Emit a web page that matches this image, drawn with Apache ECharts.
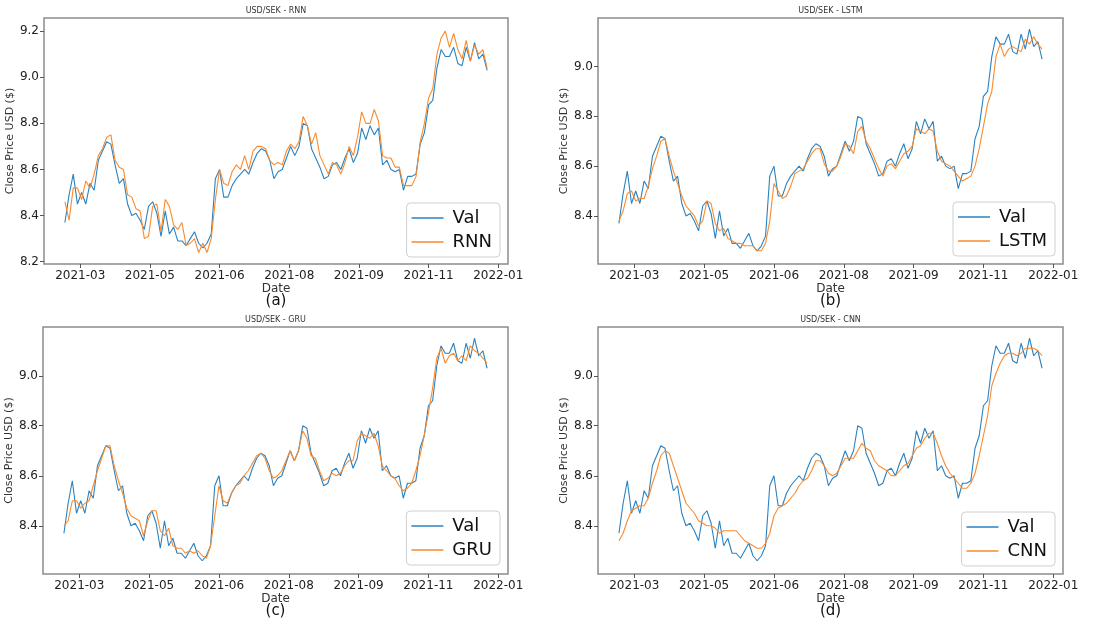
<!DOCTYPE html>
<html>
<head>
<meta charset="utf-8">
<script src="https://cdn.jsdelivr.net/npm/echarts@6/dist/echarts.min.js"></script>
<style>
  html, body { margin: 0; padding: 0; background: #fff; }
  #main { width: 1118px; height: 623px; }
</style>
</head>
<body>
<div id="main"></div>
<script>
// sample dates (every 3 days)
var dates = [
  '2021-03-02','2021-03-05','2021-03-08','2021-03-11','2021-03-14','2021-03-17','2021-03-20','2021-03-23','2021-03-26','2021-03-29',
  '2021-04-01','2021-04-04','2021-04-07','2021-04-10','2021-04-13','2021-04-16','2021-04-19','2021-04-22','2021-04-25','2021-04-28',
  '2021-05-01','2021-05-04','2021-05-07','2021-05-10','2021-05-13','2021-05-16','2021-05-19','2021-05-22','2021-05-25','2021-05-28','2021-05-31',
  '2021-06-03','2021-06-06','2021-06-09','2021-06-12','2021-06-15','2021-06-18','2021-06-21','2021-06-24','2021-06-27','2021-06-30',
  '2021-07-03','2021-07-06','2021-07-09','2021-07-12','2021-07-15','2021-07-18','2021-07-21','2021-07-24','2021-07-27','2021-07-30',
  '2021-08-02','2021-08-05','2021-08-08','2021-08-11','2021-08-14','2021-08-17','2021-08-20','2021-08-23','2021-08-26','2021-08-29',
  '2021-09-01','2021-09-04','2021-09-07','2021-09-10','2021-09-13','2021-09-16','2021-09-19','2021-09-22','2021-09-25','2021-09-28',
  '2021-10-01','2021-10-04','2021-10-07','2021-10-10','2021-10-13','2021-10-16','2021-10-19','2021-10-22','2021-10-25','2021-10-28','2021-10-31',
  '2021-11-03','2021-11-06','2021-11-09','2021-11-12','2021-11-15','2021-11-18','2021-11-21','2021-11-24','2021-11-27','2021-11-30',
  '2021-12-03','2021-12-06','2021-12-09','2021-12-12','2021-12-15','2021-12-18','2021-12-21','2021-12-24','2021-12-27','2021-12-30'
];

var val = [
  8.37, 8.49, 8.58, 8.45, 8.50, 8.45, 8.54, 8.51, 8.64, 8.68,
  8.72, 8.71, 8.62, 8.54, 8.56, 8.45, 8.40, 8.41, 8.38, 8.34,
  8.44, 8.46, 8.41, 8.31, 8.42, 8.32, 8.35, 8.29, 8.29, 8.27,
  8.30, 8.33, 8.28, 8.26, 8.28, 8.32, 8.56, 8.60, 8.48, 8.48,
  8.53, 8.56, 8.58, 8.60, 8.58, 8.63, 8.67, 8.69, 8.68, 8.64,
  8.56, 8.59, 8.60, 8.65, 8.70, 8.66, 8.70, 8.80, 8.79, 8.69,
  8.65, 8.61, 8.56, 8.57, 8.62, 8.63, 8.60, 8.65, 8.69, 8.63,
  8.67, 8.78, 8.73, 8.79, 8.75, 8.78, 8.62, 8.64, 8.60, 8.59,
  8.60, 8.51, 8.57, 8.57, 8.58, 8.71, 8.76, 8.88, 8.90, 9.04,
  9.12, 9.09, 9.09, 9.13, 9.06, 9.05, 9.13, 9.07, 9.15, 9.08, 9.10, 9.03
];

var rnn = [
  8.46, 8.38, 8.52, 8.52, 8.47, 8.55, 8.52, 8.58, 8.66, 8.69,
  8.74, 8.75, 8.64, 8.61, 8.60, 8.49, 8.48, 8.43, 8.42, 8.30,
  8.31, 8.44, 8.45, 8.33, 8.47, 8.44, 8.36, 8.34, 8.37, 8.27,
  8.28, 8.30, 8.24, 8.28, 8.24, 8.30, 8.47, 8.60, 8.54, 8.53,
  8.59, 8.62, 8.60, 8.66, 8.60, 8.68, 8.70, 8.70, 8.69, 8.64,
  8.62, 8.63, 8.62, 8.68, 8.71, 8.69, 8.72, 8.83, 8.79, 8.71,
  8.76, 8.66, 8.62, 8.58, 8.63, 8.62, 8.58, 8.63, 8.70, 8.66,
  8.74, 8.85, 8.80, 8.80, 8.86, 8.81, 8.66, 8.65, 8.65, 8.61,
  8.61, 8.53, 8.53, 8.53, 8.57, 8.72, 8.80, 8.91, 8.95, 9.10,
  9.17, 9.20, 9.13, 9.19, 9.12, 9.08, 9.16, 9.07, 9.14, 9.10, 9.12, 9.04
];

var lstm = [
  8.38, 8.42, 8.49, 8.50, 8.46, 8.47, 8.47, 8.52, 8.59, 8.64,
  8.70, 8.71, 8.64, 8.58, 8.53, 8.48, 8.44, 8.42, 8.40, 8.36,
  8.38, 8.46, 8.45, 8.37, 8.34, 8.35, 8.31, 8.30, 8.29, 8.29,
  8.28, 8.28, 8.28, 8.26, 8.26, 8.29, 8.38, 8.53, 8.50, 8.47,
  8.48, 8.52, 8.57, 8.58, 8.59, 8.62, 8.65, 8.67, 8.67, 8.61,
  8.58, 8.58, 8.60, 8.64, 8.69, 8.68, 8.65, 8.74, 8.76, 8.70,
  8.67, 8.63, 8.59, 8.56, 8.60, 8.61, 8.59, 8.62, 8.65, 8.66,
  8.68, 8.75, 8.74, 8.73, 8.75, 8.74, 8.66, 8.62, 8.61, 8.60,
  8.58, 8.56, 8.54, 8.55, 8.56, 8.60, 8.67, 8.76, 8.85, 8.90,
  9.04, 9.09, 9.04, 9.07, 9.08, 9.07, 9.06, 9.11, 9.09, 9.12, 9.09, 9.07
];

var gru = [
  8.40, 8.42, 8.50, 8.50, 8.47, 8.49, 8.50, 8.56, 8.62, 8.67,
  8.72, 8.72, 8.64, 8.58, 8.53, 8.47, 8.44, 8.43, 8.42, 8.36,
  8.42, 8.46, 8.46, 8.38, 8.36, 8.39, 8.32, 8.31, 8.31, 8.29,
  8.30, 8.29, 8.30, 8.28, 8.27, 8.32, 8.44, 8.56, 8.50, 8.49,
  8.53, 8.56, 8.57, 8.60, 8.62, 8.65, 8.68, 8.69, 8.67, 8.62,
  8.59, 8.60, 8.62, 8.66, 8.70, 8.66, 8.70, 8.78, 8.75, 8.68,
  8.67, 8.62, 8.58, 8.59, 8.61, 8.60, 8.61, 8.64, 8.66, 8.66,
  8.74, 8.77, 8.76, 8.75, 8.77, 8.72, 8.64, 8.62, 8.60, 8.59,
  8.56, 8.54, 8.55, 8.57, 8.62, 8.68, 8.76, 8.85, 8.95, 9.07,
  9.11, 9.05, 9.08, 9.09, 9.06, 9.08, 9.06, 9.12, 9.10, 9.09, 9.07, 9.05
];

var cnn = [
  8.34, 8.37, 8.42, 8.46, 8.47, 8.48, 8.48, 8.51, 8.57, 8.62,
  8.68, 8.70, 8.69, 8.64, 8.59, 8.54, 8.49, 8.47, 8.45, 8.42,
  8.41, 8.40, 8.40, 8.39, 8.37, 8.38, 8.38, 8.38, 8.38, 8.36,
  8.34, 8.33, 8.32, 8.31, 8.31, 8.33, 8.37, 8.44, 8.47, 8.48,
  8.49, 8.51, 8.53, 8.56, 8.58, 8.59, 8.62, 8.66, 8.66, 8.64,
  8.61, 8.60, 8.61, 8.64, 8.67, 8.67, 8.67, 8.70, 8.73, 8.71,
  8.70, 8.66, 8.64, 8.63, 8.62, 8.60, 8.60, 8.62, 8.64, 8.65,
  8.68, 8.71, 8.72, 8.75, 8.77, 8.77, 8.73, 8.68, 8.64, 8.61,
  8.59, 8.57, 8.55, 8.55, 8.57, 8.61, 8.68, 8.76, 8.84, 8.96,
  9.01, 9.05, 9.08, 9.09, 9.09, 9.08, 9.09, 9.11, 9.11, 9.11, 9.10, 9.08
];

// x tick dates (every 50 days) and y ticks
var xTicks = ['2021-03-13','2021-05-02','2021-06-21','2021-08-10','2021-09-29','2021-11-18','2022-01-07'];
var yTicksA = [8.2, 8.4, 8.6, 8.8, 9.0, 9.2];
var yTicksB = [8.4, 8.6, 8.8, 9.0];

var panels = [
  {tag: '(a)', model: 'RNN',  pred: rnn,  ticks: yTicksA, ymin: 8.19,  ymax: 9.257, left: 44,  top: 18,  w: 464, h: 246, lr: 618, lb: 366},
  {tag: '(b)', model: 'LSTM', pred: lstm, ticks: yTicksB, ymin: 8.207, ymax: 9.195, left: 598, top: 18,  w: 465, h: 246, lr: 63,  lb: 367},
  {tag: '(c)', model: 'GRU',  pred: gru,  ticks: yTicksB, ymin: 8.207, ymax: 9.195, left: 43,  top: 327, w: 465, h: 247, lr: 618, lb: 58},
  {tag: '(d)', model: 'CNN',  pred: cnn,  ticks: yTicksB, ymin: 8.207, ymax: 9.195, left: 598, top: 327, w: 465, h: 247, lr: 63,  lb: 57}
];

function ts(s) { return Date.parse(s + 'T00:00:00Z'); }
function pairs(arr) {
  return arr.map(function (v, i) { return [ts(dates[i]), v]; });
}
var xTickTs = xTicks.map(ts);

var font = 'DejaVu Sans';
var blue = '#2a82c0', orange = '#fb8a2c';
var grid = [], xAxis = [], yAxis = [], series = [], legend = [], graphic = [];

panels.forEach(function (p, i) {
  grid.push({left: p.left, top: p.top, width: p.w, height: p.h, show: true,
    borderColor: '#8c8c8c', borderWidth: 1.5, backgroundColor: '#fff'});
  xAxis.push({
    type: 'value', gridIndex: i, min: ts('2021-02-15'), max: ts('2022-01-14'),
    name: 'Date', nameLocation: 'middle', nameGap: 17,
    nameTextStyle: {fontFamily: font, fontSize: 12, color: '#333'},
    axisLine: {show: false},
    axisTick: {show: true, customValues: xTickTs, length: 4, lineStyle: {color: '#555'}},
    axisLabel: {customValues: xTickTs, fontFamily: font, fontSize: 12, color: '#222', margin: 6,
      formatter: function (v) {
        var d = new Date(v);
        var m = d.getUTCMonth() + 1;
        return d.getUTCFullYear() + '-' + (m < 10 ? '0' + m : m);
      }},
    splitLine: {show: false}
  });
  yAxis.push({
    type: 'value', gridIndex: i, min: p.ymin, max: p.ymax,
    name: 'Close Price USD ($)', nameLocation: 'middle', nameGap: 20,
    nameTextStyle: {fontFamily: font, fontSize: 11, color: '#333'},
    axisLine: {show: false},
    axisTick: {show: true, customValues: p.ticks, length: 4, lineStyle: {color: '#555'}},
    axisLabel: {customValues: p.ticks, fontFamily: font, fontSize: 12, color: '#222', margin: 5,
      formatter: function (v) { return Number(v).toFixed(1); }},
    splitLine: {show: false}
  });
  series.push({
    name: 'Val', type: 'line', xAxisIndex: i, yAxisIndex: i, data: pairs(val),
    symbol: 'none', color: blue, lineStyle: {width: 1.1}
  });
  series.push({
    name: p.model, type: 'line', xAxisIndex: i, yAxisIndex: i, data: pairs(p.pred),
    symbol: 'none', color: orange, lineStyle: {width: 1.1}
  });
  legend.push({
    data: ['Val', p.model], orient: 'vertical', right: p.lr, bottom: p.lb,
    icon: 'rect', itemWidth: 32, itemHeight: 1.5, itemGap: 6,
    padding: [6, 8, 6, 5], backgroundColor: '#fff', borderColor: '#d0d0d0', borderWidth: 1, borderRadius: 4,
    textStyle: {fontFamily: font, fontSize: 18, color: '#111', padding: [0, 0, 0, 4]},
    selectedMode: false
  });
  var cx = p.left + p.w / 2;
  graphic.push({type: 'text', x: cx, y: p.top - 7,
    style: {text: 'USD/SEK - ' + p.model, font: '8px "DejaVu Sans"', fill: '#333', align: 'center', verticalAlign: 'middle'}});
  graphic.push({type: 'text', x: cx, y: p.top + p.h + 37,
    style: {text: p.tag, font: '15px "DejaVu Sans"', fill: '#111', align: 'center', verticalAlign: 'middle'}});
});

var chart = echarts.init(document.getElementById('main'));
chart.setOption({
  animation: false,
  backgroundColor: '#fff',
  grid: grid,
  xAxis: xAxis,
  yAxis: yAxis,
  legend: legend,
  series: series,
  graphic: graphic
});
</script>
</body>
</html>
